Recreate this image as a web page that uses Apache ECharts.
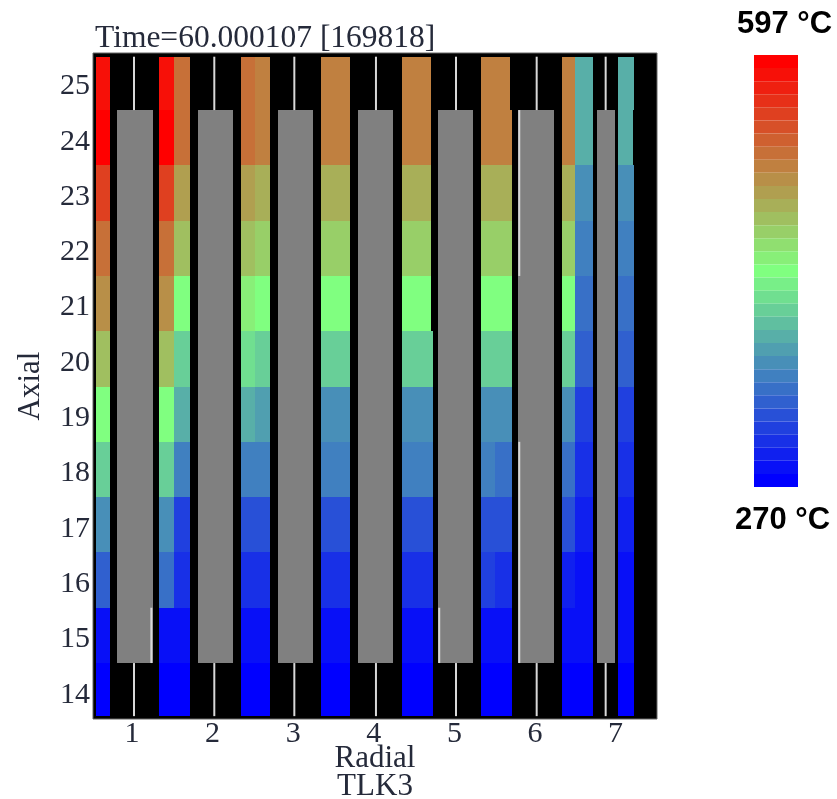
<!DOCTYPE html>
<html>
<head>
<meta charset="utf-8">
<style>html,body{margin:0;padding:0;background:#fff}#c{width:837px;height:799px}</style>
<script src="https://cdn.jsdelivr.net/npm/echarts@6/dist/echarts.min.js"></script>
</head>
<body>
<div id="c"></div>
<script>
// Axial rows, top to bottom
const axialRows = [25, 24, 23, 22, 21, 20, 19, 18, 17, 16, 15, 14];
const radialTicks = [1, 2, 3, 4, 5, 6, 7];

// Coolant temperatures (deg C) per sub-channel, rows 25..14
const tempA  = [587, 597, 556, 525, 505, 474, 434, 403, 362, 331, 280, 270];
const tempB1 = [587, 597, 556, 525, 505, 474, 434, 403, 362, 342, 280, 270];
const tempB2 = [525, 525, 495, 474, 434, 403, 382, 352, 311, 301, 280, 270];
const tempC1 = [525, 525, 495, 474, 444, 413, 382, 352, 321, 301, 280, 270];
const tempC2 = [515, 515, 485, 464, 434, 403, 372, 352, 321, 301, 280, 270];
const tempD  = [515, 515, 485, 464, 434, 403, 362, 352, 321, 301, 280, 270];
const tempEupper = [515, 515, 485, 464, 434, null, null, null, null, null, null, null];
const tempElower = [null, null, null, null, null, 403, 362, 352, 321, 301, 280, 270];
const tempF1 = [515, 515, 485, 464, 434, 403, 362, 352, 321, 311, 280, 270];
const tempF2upper = [515, null, null, null, null, null, null, null, null, null, null, null];
const tempF2lower = [null, 515, 485, 464, 434, 403, 362, 342, 321, 301, 280, 270];
const tempG1 = [515, 515, 485, 464, 434, 403, 362, 342, 321, 290, 280, 270];
const tempG2 = [382, 382, 362, 352, 342, 331, 311, 301, 290, 280, 280, 270];
const tempH25 = [382, null, null, null, null, null, null, null, null, null, null, null];
const tempH24 = [null, 382, null, null, null, null, null, null, null, null, null, null];
const tempHlower = [null, null, 362, 352, 342, 331, 311, 301, 290, 280, 280, 270];

// Sub-channel extents on the radial axis
const channels = [
  [0.553, 0.727, tempA], [1.335, 1.525, tempB1], [1.525, 1.720, tempB2],
  [2.349, 2.526, tempC1], [2.526, 2.712, tempC2], [3.345, 3.705, tempD],
  [4.344, 4.706, tempEupper], [4.344, 4.731, tempElower],
  [5.330, 5.504, tempF1], [5.504, 5.693, tempF2upper], [5.504, 5.715, tempF2lower],
  [6.331, 6.500, tempG1], [6.500, 6.716, tempG2],
  [7.034, 7.229, tempH25], [7.034, 7.211, tempH24], [7.034, 7.229, tempHlower]
];

// Fuel rods on the radial axis, running over axial 14.5..24.5
const rodStart = [0.818, 1.815, 2.808, 3.804, 4.800, 5.793, 6.765];
const rodEnd   = [1.257, 2.249, 3.249, 4.244, 5.234, 6.232, 6.989];
const rodAxis  = [1.025, 2.021, 3.014, 4.027, 5.020, 6.021, 6.877];
const rodAxialLow = 14.5, rodAxialHigh = 24.5;
const axialTopEdge = 25.465, axialBottomEdge = 13.54;

// Bright segments along rod edges: [radial, axial from, axial to]
const rodEdgeMarks = [[1.240, 14.5, 15.5], [4.812, 14.5, 15.5], [5.805, 14.5, 18.5], [5.805, 21.5, 24.5]];

const tempMin = 270, tempMax = 597, bandCount = 33;

function ramp(f) {
  const blue = [0, 0, 255], mid = [128, 255, 128], red = [255, 0, 0];
  const a = f < 0.5 ? blue : mid, b = f < 0.5 ? mid : red, t = f < 0.5 ? f * 2 : (f - 0.5) * 2;
  return 'rgb(' + a.map((v, i) => Math.round(v + (b[i] - v) * t)).join(',') + ')';
}
const step = (tempMax - tempMin) / (bandCount - 1);
const pieces = [];
for (let i = 0; i < bandCount; i++) {
  pieces.push({
    min: i === 0 ? tempMin - 20 : tempMin + (i - 0.5) * step,
    max: i === bandCount - 1 ? tempMax + 20 : tempMin + (i + 0.5) * step,
    color: ramp(i / (bandCount - 1))
  });
}

const cellData = [];
channels.forEach(([x0, x1, temps]) => {
  temps.forEach((t, i) => {
    if (t === null) return;
    const r = axialRows[i];
    cellData.push([x0, x1, Math.min(r + 0.5, axialTopEdge), Math.max(r - 0.5, axialBottomEdge), t]);
  });
});
const rodData = rodStart.map((s, i) => [s, rodEnd[i], rodAxialHigh, rodAxialLow]);
const lineData = [];
rodAxis.forEach(x => {
  lineData.push([x, axialTopEdge, rodAxialHigh]);
  lineData.push([x, rodAxialLow, axialBottomEdge]);
});
rodEdgeMarks.forEach(m => lineData.push(m));

function rectItem(api, fill) {
  const p0 = api.coord([api.value(0), api.value(2)]).map(Math.round);
  const p1 = api.coord([api.value(1), api.value(3)]).map(Math.round);
  return { type: 'rect', shape: { x: p0[0], y: p0[1], width: p1[0] - p0[0], height: p1[1] - p0[1] }, style: { fill: fill } };
}

const serif = '"Liberation Serif", "Times New Roman", serif';
const inkColor = '#252a3a';

const chart = echarts.init(document.getElementById('c'), null, { renderer: 'canvas' });
chart.setOption({
  animation: false,
  backgroundColor: '#ffffff',
  title: [
    { text: 'Time=60.000107 [169818]', left: 95, top: 23, padding: 0,
      textStyle: { fontFamily: serif, fontSize: 31.5, fontWeight: 'normal', color: inkColor } },
    { text: '597 °C', left: 737, top: 9, padding: 0,
      textStyle: { fontFamily: '"Liberation Sans", Arial, sans-serif', fontSize: 31, fontWeight: 'bold', color: '#000' } },
    { text: '270 °C', left: 735, top: 505, padding: 0,
      textStyle: { fontFamily: '"Liberation Sans", Arial, sans-serif', fontSize: 31, fontWeight: 'bold', color: '#000' } }
  ],
  grid: { left: 93, top: 53, right: 180, bottom: 80, show: true, backgroundColor: '#000', borderColor: '#666', borderWidth: 1, containLabel: false, outerBoundsMode: 'none' },
  xAxis: {
    type: 'value', min: 0.516, max: 7.514,
    name: 'Radial\nTLK3', nameLocation: 'middle', nameGap: 26, nameMoveOverlap: false,
    nameTextStyle: { fontFamily: serif, fontSize: 31, color: inkColor, lineHeight: 28 },
    axisLine: { show: false }, axisTick: { show: false }, splitLine: { show: false },
    axisLabel: { customValues: radialTicks, fontFamily: serif, fontSize: 30, color: inkColor, margin: 0, hideOverlap: false }
  },
  yAxis: {
    type: 'value', min: 13.488, max: 25.532,
    name: 'Axial', nameLocation: 'middle', nameGap: 47, nameMoveOverlap: false,
    nameTextStyle: { fontFamily: serif, fontSize: 31, color: inkColor },
    axisLine: { show: false }, axisTick: { show: false }, splitLine: { show: false },
    axisLabel: { customValues: axialRows, fontFamily: serif, fontSize: 30, color: inkColor, margin: 3, verticalAlign: 'top', lineHeight: 8, hideOverlap: false }
  },
  visualMap: {
    type: 'piecewise', seriesIndex: 0, dimension: 4, orient: 'vertical',
    left: 754, top: 55, padding: 0, itemGap: 0, itemWidth: 44, itemHeight: 432 / bandCount,
    itemSymbol: 'rect', showLabel: false, selectedMode: false, hoverLink: false, pieces: pieces
  },
  series: [
    { type: 'custom', data: cellData, encode: { x: [0, 1], y: [2, 3] }, clip: true,
      renderItem: (params, api) => rectItem(api, api.visual('color')) },
    { type: 'custom', data: rodData, encode: { x: [0, 1], y: [2, 3] }, clip: true,
      renderItem: (params, api) => rectItem(api, '#808080') },
    { type: 'custom', data: lineData, encode: { x: 0, y: [1, 2] }, clip: true,
      renderItem: (params, api) => {
        const a = api.coord([api.value(0), api.value(1)]);
        const b = api.coord([api.value(0), api.value(2)]);
        return { type: 'line', shape: { x1: a[0], y1: a[1], x2: b[0], y2: b[1] }, style: { stroke: '#d8d8d8', lineWidth: 2 } };
      } }
  ]
});
</script>
</body>
</html>
